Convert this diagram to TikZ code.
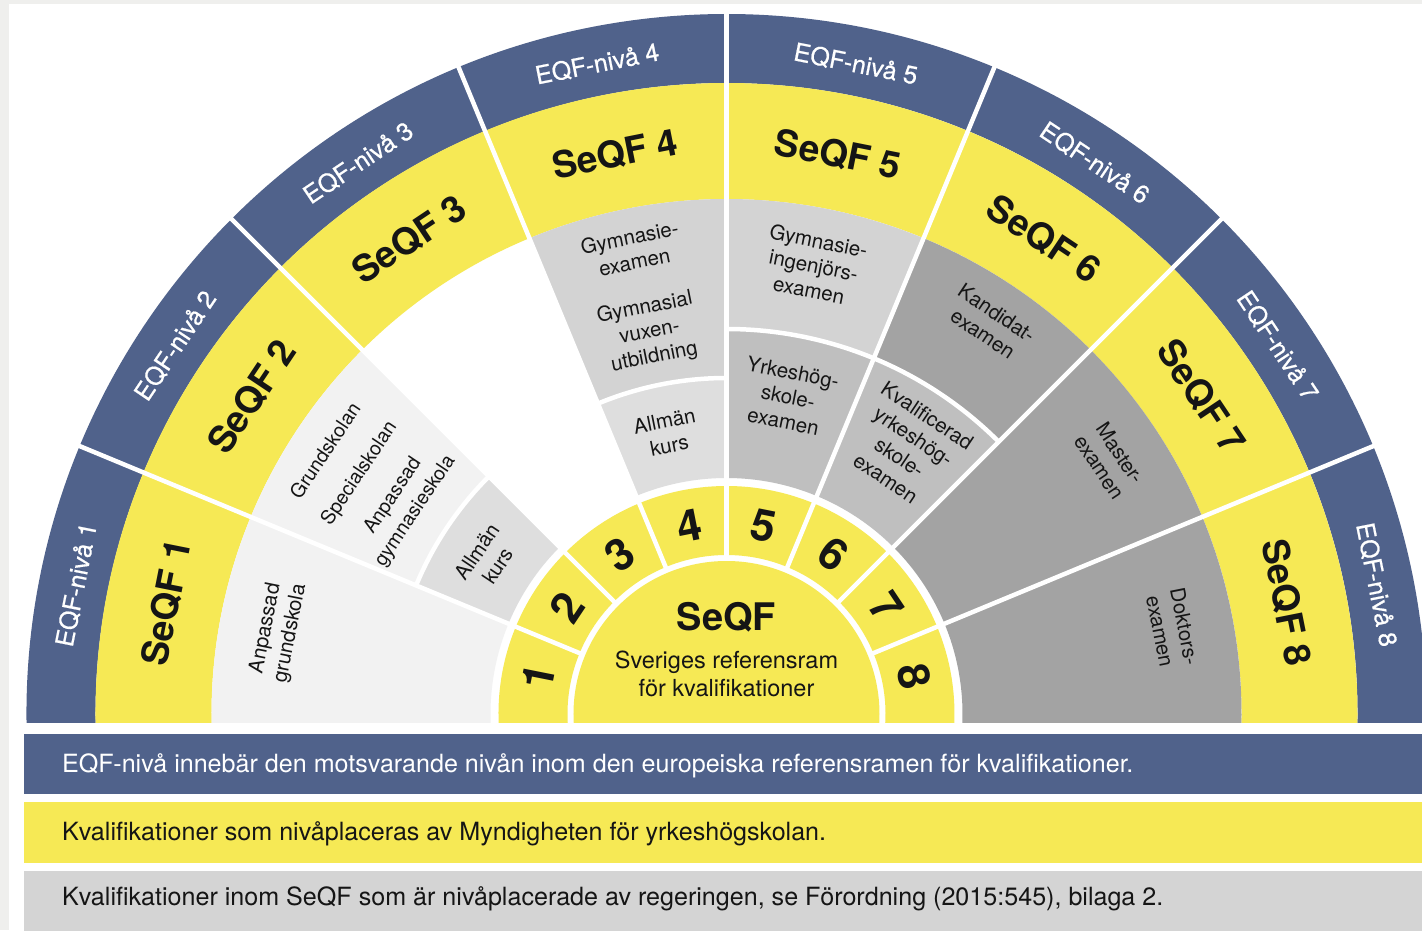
\documentclass[tikz,border=0pt]{standalone}
\usepackage{fontspec}
\setmainfont{TeX Gyre Heros}
\newfontfamily\eqffont[FakeBold=0.6]{TeX Gyre Heros}
\definecolor{eqfblue}{HTML}{50628B}
\definecolor{seqfyellow}{HTML}{F6E955}
\definecolor{pagegray}{HTML}{EFEFED}
\definecolor{gA}{HTML}{F2F2F2}
\definecolor{gB}{HTML}{DEDEDE}
\definecolor{gC}{HTML}{D3D3D3}
\definecolor{gD}{HTML}{BFBFBF}
\definecolor{gE}{HTML}{A3A3A3}
\definecolor{legendgray}{HTML}{D4D4D4}
\definecolor{ink}{HTML}{151515}
\newcommand\ansec[5]{%
  \fill[#1] (#2:#4pt) arc[start angle=#2,end angle=#3,radius=#4pt] -- (#3:#5pt) arc[start angle=#3,end angle=#2,radius=#5pt] -- cycle;}
\begin{document}
\begin{tikzpicture}[x=1pt,y=1pt,
  sep/.style={white,line width=4.5pt},
  eqf/.style={text=white,font=\eqffont\fontsize{25}{30}\selectfont,inner sep=0pt},
  seqf/.style={text=ink,font=\fontsize{37}{44}\selectfont\bfseries,inner sep=0pt},
  num/.style={text=ink,font=\fontsize{44}{50}\selectfont\bfseries,inner sep=0pt},
  qual/.style={text=ink,font=\fontsize{20.5}{25}\selectfont,align=center,inner sep=0pt},
  legend/.style={font=\fontsize{25.1}{29}\selectfont,anchor=base west,inner sep=0pt}]
\useasboundingbox (-726.5,-216) rectangle (695.5,714);
\fill[pagegray] (-726.5,-216) rectangle (695.5,714);
\fill[white] (-717.5,-216) rectangle (695.5,710);
\begin{scope}
  \clip (-730,-8) rectangle (730,720);
  \ansec{eqfblue}{-4}{184}{631}{700}
  \ansec{seqfyellow}{-4}{184}{515}{631}
  % sector regions
  \ansec{gA}{157.5}{184}{236}{515}
  \ansec{gA}{135}{157.5}{336}{515}
  \ansec{gB}{135}{157.5}{236}{336}
  \ansec{gC}{90}{112.5}{336}{515}
  \ansec{gB}{90}{112.5}{236}{336}
  \ansec{gC}{67.5}{90}{385}{515}
  \ansec{gD}{67.5}{90}{236}{385}
  \ansec{gE}{45}{67.5}{385}{515}
  \ansec{gD}{45}{67.5}{236}{385}
  \ansec{gE}{-4}{45}{236}{515}
  % number ring and core
  \ansec{seqfyellow}{-4}{184}{159}{228}
  \fill[seqfyellow] (0,0) circle[radius=153pt];
  % separators
  \draw[sep] (135:336pt) arc[start angle=135,end angle=157.5,radius=336pt];
  \draw[sep] (90:336pt) arc[start angle=90,end angle=112.5,radius=336pt];
  \draw[sep] (45:385pt) arc[start angle=45,end angle=90,radius=385pt];
  \foreach \a in {22.5,45,67.5,90,112.5,135,157.5}
    \draw[sep] (\a:156pt) -- (\a:704pt);
\end{scope}
% ring labels
\foreach \i in {1,...,8}{
  \pgfmathsetmacro{\secang}{191.25-22.5*\i}
  \pgfmathsetmacro{\secrot}{\secang-90}
  \node[eqf,rotate=\secrot] (eqf\i) at (\secang:663) {EQF-nivå \i};
  \node[seqf,rotate=\secrot] (seqf\i) at (\secang:571) {SeQF \i};
  \node[num,rotate=\secrot] (num\i) at (\secang:192) {\i};
}
% core
\node[font=\fontsize{38}{44}\selectfont\bfseries,text=ink] (core) at (0,97) {SeQF};
\node[font=\fontsize{23.5}{28}\selectfont,text=ink,align=center] (coresub) at (0,40) {Sveriges referensram\\för kvalifikationer};
% qualifications
\node[qual,rotate=78.75] (q1) at (169.5:456) {Anpassad\\grundskola};
\node[qual,rotate=56.25,font=\fontsize{19.5}{27}\selectfont] (q2) at (146.8:425) {Grundskolan\\[13pt]Specialskolan\\[13pt]Anpassad\\gymnasieskola};
\node[qual,rotate=56.25] (q2b) at (147:285) {Allmän\\kurs};
\node[qual,rotate=11.25] (q4a) at (101.5:474) {Gymnasie-\\examen};
\node[qual,rotate=11.25] (q4b) at (101.4:389) {Gymnasial\\vuxen-\\utbildning};
\node[qual,rotate=11.25] (q4c) at (102:287) {Allmän\\kurs};
\node[qual,rotate=-11.25] (q5a) at (79:457) {Gymnasie-\\ingenjörs-\\examen};
\node[qual,rotate=-11.25] (q5b) at (79:323) {Yrkeshög-\\skole-\\examen};
\node[qual,rotate=-33.75] (q6a) at (56:471) {Kandidat-\\examen};
\node[qual,rotate=-33.75] (q6b) at (56:322) {Kvalificerad\\yrkeshög-\\skole-\\examen};
\node[qual,rotate=-56.25] (q7) at (33.5:460) {Master-\\examen};
\node[qual,rotate=-78.75] (q8) at (10.8:454) {Doktors-\\examen};
% legend
\fill[eqfblue] (-702.5,-20) rectangle (700,-80);
\fill[seqfyellow] (-702.5,-88) rectangle (700,-149);
\fill[legendgray] (-702.5,-157) rectangle (700,-220);
\node[legend,text=white] (leg1) at (-664.5,-58) {EQF-nivå innebär den motsvarande nivån inom den europeiska referensramen för kvalifikationer.};
\node[legend,text=ink] (leg2) at (-664.5,-126) {Kvalifikationer som nivåplaceras av Myndigheten för yrkeshögskolan.};
\node[legend,text=ink] (leg3) at (-664.5,-191) {Kvalifikationer inom SeQF som är nivåplacerade av regeringen, se Förordning (2015:545), bilaga 2.};
\end{tikzpicture}
\end{document}
